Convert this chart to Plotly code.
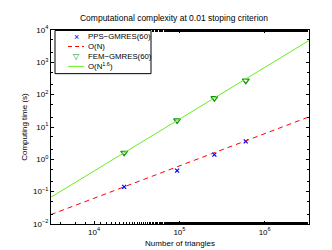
import plotly.graph_objects as go

# Data
n_triangles = [22500, 94000, 257000, 600000]
pps_time = [0.14, 0.45, 1.4, 3.6]
fem_time = [1.6, 16, 78, 270]

fit_n = [3100, 3.3e6]
fit_linear = [0.0195, 20.5]
fit_power = [0.067, 4700]

x_ticks = [1e4, 1e5, 1e6]
x_tick_text = ["10<sup>4</sup>", "10<sup>5</sup>", "10<sup>6</sup>"]
y_ticks = [1e-2, 1e-1, 1e0, 1e1, 1e2, 1e3, 1e4]
y_tick_text = ["10<sup>−2</sup>", "10<sup>−1</sup>", "10<sup>0</sup>", "10<sup>1</sup>",
               "10<sup>2</sup>", "10<sup>3</sup>", "10<sup>4</sup>"]

legend_names = ["PPS−GMRES(60)", "O(N)", "FEM−GMRES(60)", "O(N<sup>1.6</sup>)"]

FONT = "Liberation Sans, Arial, sans-serif"
BLUE = "#0000ff"
RED = "#ff0000"
DKGREEN = "#109010"
LTGREEN = "#66ee22"

W, H = 332, 250
L, R, T, B = 43, 31, 22, 28
PW, PH = W - L - R, H - T - B


def px(xp):
    return (xp - L) / PW


def py(yp):
    return 1 - (yp - T) / PH


fig = go.Figure()
fig.add_trace(go.Scatter(x=n_triangles, y=pps_time, mode="markers", name=legend_names[0],
                         marker=dict(symbol="x-thin", size=4, color=BLUE,
                                     line=dict(width=1.2, color=BLUE))))
fig.add_trace(go.Scatter(x=fit_n, y=fit_linear, mode="lines", name=legend_names[1],
                         line=dict(color=RED, width=1, dash="5px,4px")))
fig.add_trace(go.Scatter(x=n_triangles, y=fem_time, mode="markers", name=legend_names[2],
                         marker=dict(symbol="triangle-down-open", size=6, color=DKGREEN,
                                     line=dict(width=1.2))))
fig.add_trace(go.Scatter(x=fit_n, y=fit_power, mode="lines", name=legend_names[3],
                         line=dict(color=LTGREEN, width=1)))

axis_common = dict(showline=True, linecolor="black", linewidth=1, mirror="ticks",
                   ticks="inside", ticklen=3, tickcolor="black", showgrid=False,
                   zeroline=False, tickfont=dict(size=8, color="black", family=FONT),
                   minor=dict(ticks="inside", ticklen=2, tickcolor="black", showgrid=False))

fig.update_xaxes(type="log", range=[3.494, 6.52], tickvals=x_ticks, ticktext=x_tick_text,
                 title=dict(text="Number of triangles", font=dict(size=8, family=FONT, color="black"),
                            standoff=4),
                 **axis_common)
fig.update_yaxes(type="log", range=[-2, 4], tickvals=y_ticks, ticktext=y_tick_text,
                 title=dict(text="Computing time (s)", font=dict(size=8, family=FONT, color="black"),
                            standoff=4),
                 **axis_common)

# Custom compact legend (MATLAB style)
shapes = [
    dict(type="rect", xref="paper", yref="paper", x0=px(47), x1=px(143), y0=py(67), y1=py(22.5),
         line=dict(color="black", width=1), fillcolor="white", layer="above"),
    dict(type="line", xref="paper", yref="paper", x0=px(60), x1=px(76), y0=py(39), y1=py(39),
         line=dict(color=RED, width=1, dash="4px,3px"), layer="above"),
    dict(type="line", xref="paper", yref="paper", x0=px(60), x1=px(76), y0=py(59.5), y1=py(59.5),
         line=dict(color=LTGREEN, width=1), layer="above"),
]
annotations = [
    dict(xref="paper", yref="paper", x=px(68), y=py(29), text="×", showarrow=False,
         font=dict(size=9, color=BLUE, family=FONT), xanchor="center", yanchor="middle"),
    dict(xref="paper", yref="paper", x=px(68), y=py(49.5), text="▽", showarrow=False,
         font=dict(size=8, color=DKGREEN, family="DejaVu Sans"), xanchor="center", yanchor="middle"),
]
for name, yy in zip(legend_names, [29, 39, 49.5, 59.5]):
    annotations.append(dict(xref="paper", yref="paper", x=px(78), y=py(yy), text=name,
                            showarrow=False, xanchor="left", yanchor="middle",
                            font=dict(size=7.8, family=FONT, color="black")))

fig.update_layout(
    width=W, height=H,
    margin=dict(l=L, r=R, t=T, b=B),
    paper_bgcolor="white", plot_bgcolor="white",
    font=dict(family=FONT, size=8, color="black"),
    title=dict(text="Computational complexity at 0.01 stoping criterion",
               x=0.5, xanchor="center", y=0.96, yanchor="middle",
               font=dict(size=8.5, family=FONT, color="black")),
    shapes=shapes, annotations=annotations,
    showlegend=False,
)

fig.write_html("out.html")
